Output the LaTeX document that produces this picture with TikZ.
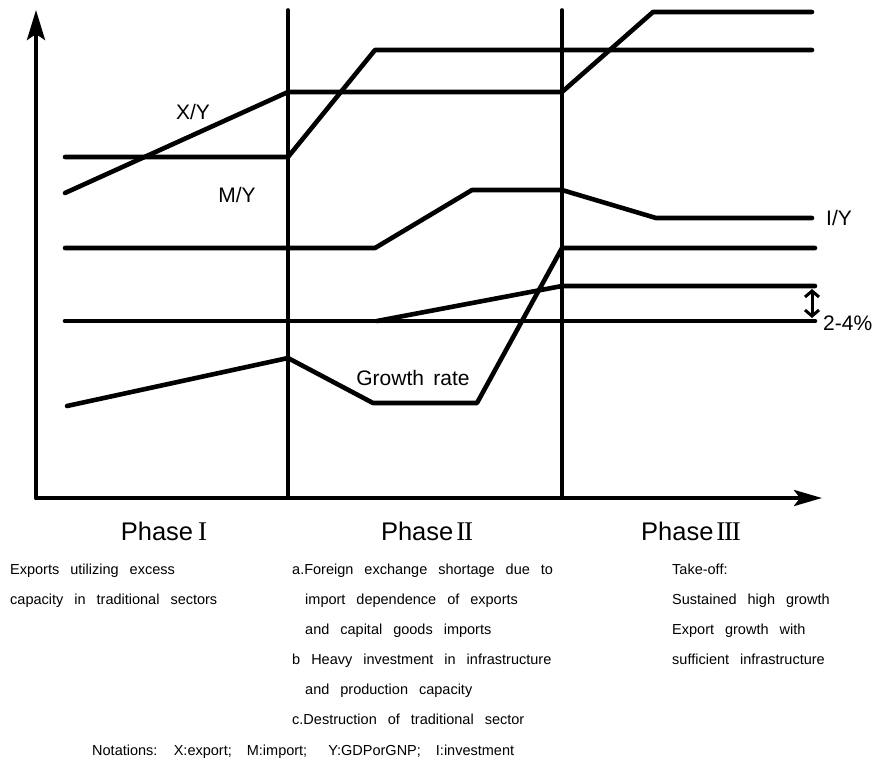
\documentclass[tikz,border=0pt]{standalone}
\usepackage{fontspec}
\setmainfont{Liberation Sans}
\newfontfamily\romfont{Liberation Serif}
\usetikzlibrary{arrows.meta}
\newcommand\mywidesp{\spaceskip=11pt plus 1pt minus 1pt\relax}
\newcommand\numI{{\romfont\fontsize{27}{30}\selectfont I}}
\newcommand\numII{{\romfont\fontsize{27}{30}\selectfont I\kern-1.3pt I}}
\newcommand\numIII{{\romfont\fontsize{27}{30}\selectfont I\kern-1.3pt I\kern-1.3pt I}}
\begin{document}
\begin{tikzpicture}[x=1pt,y=-1pt,line cap=round,line join=round]
\useasboundingbox (0,0) rectangle (877,761);
\tikzset{
  curve/.style={line width=4.6pt},
  axisline/.style={line width=4pt},
  phaseline/.style={line width=3.6pt},
  lbl/.style={font=\fontsize{21}{25}\selectfont,inner sep=0pt},
  phaselbl/.style={font=\fontsize{25.5}{30}\selectfont,inner sep=0pt,anchor=base},
  desc/.style={font=\fontsize{14.5}{17}\selectfont\mywidesp,inner sep=0pt,anchor=base west},
}
% axes
\coordinate (O) at (36,498);
\coordinate (ytip) at (36,10);
\coordinate (xtip) at (822,498);
\draw[axisline,-{Stealth[length=30pt,width=18pt,inset=6pt]}] (O) -- (ytip);
\draw[axisline,-{Stealth[length=28pt,width=16pt,inset=6pt]}] (O) -- (xtip);
% phase boundaries
\coordinate (p1t) at (288,10); \coordinate (p1b) at (288,498);
\coordinate (p2t) at (562,10); \coordinate (p2b) at (562,498);
\draw[phaseline] (p1t) -- (p1b);
\draw[phaseline] (p2t) -- (p2b);
% X/Y
\draw[curve] (65,193) -- (288,92) -- (562,92) -- (653,12) -- (812,12);
% M/Y
\draw[curve] (65,157) -- (288,157) -- (375,50) -- (812,50);
% I/Y
\draw[curve] (65,248) -- (375,248) -- (472,190) -- (562,190) -- (656,218) -- (812,218);
% Growth rate
\draw[curve] (67,406) -- (288,358) -- (373,403) -- (477,403) -- (562,248) -- (815,248);
% base line and rising band
\coordinate (bandlo) at (815,321);
\coordinate (bandhi) at (815,286);
\draw[curve] (65,321) -- (bandlo);
\draw[curve] (377,321) -- (562,286) -- (bandhi);
\draw[line width=3pt,{Straight Barb[length=6pt,width=14pt]}-{Straight Barb[length=6pt,width=14pt]}] ([xshift=-3pt,yshift=-3pt]bandhi) -- ([xshift=-3pt,yshift=3pt]bandlo);
% curve labels
\node[lbl] (xy) at (193,112) {X/Y};
\node[lbl] (my) at (237,195) {M/Y};
\node[lbl,anchor=west] (iy) at (826,218) {I/Y};
\node[lbl] (gr) at (413,378) {Growth\hspace{0.45em}rate};
\node[lbl,anchor=west] (pct) at (823,323) {2-4\%};
% phase labels
\node[phaselbl] (ph1) at (164,540) {Phase\hspace{5pt}\numI};
\node[phaselbl] (ph2) at (427,540) {Phase\hspace{3pt}\numII};
\node[phaselbl] (ph3) at (691,540) {Phase\hspace{3pt}\numIII};
% descriptions
\node[desc] (d11) at (10,574) {Exports utilizing excess};
\node[desc] (d12) at (10,604) {capacity in traditional sectors};
\node[desc] (d21) at (292,574) {a.Foreign exchange shortage due to};
\node[desc] (d22) at (305,604) {import dependence of exports};
\node[desc] (d23) at (305,634) {and capital goods imports};
\node[desc] (d24) at (292,664) {b Heavy investment in infrastructure};
\node[desc] (d25) at (305,694) {and production capacity};
\node[desc] (d26) at (292,724) {c.Destruction of traditional sector};
\node[desc] (d31) at (672,574) {Take-off:};
\node[desc] (d32) at (672,604) {Sustained high growth};
\node[desc] (d33) at (672,634) {Export growth with};
\node[desc] (d34) at (672,664) {sufficient infrastructure};
\node[desc] (nt) at (92,755) {Notations:\hspace{4pt} X:export;\hspace{4pt} M:import;\hspace{10pt} Y:GDPorGNP;\hspace{4pt} I:investment};
\end{tikzpicture}
\end{document}
